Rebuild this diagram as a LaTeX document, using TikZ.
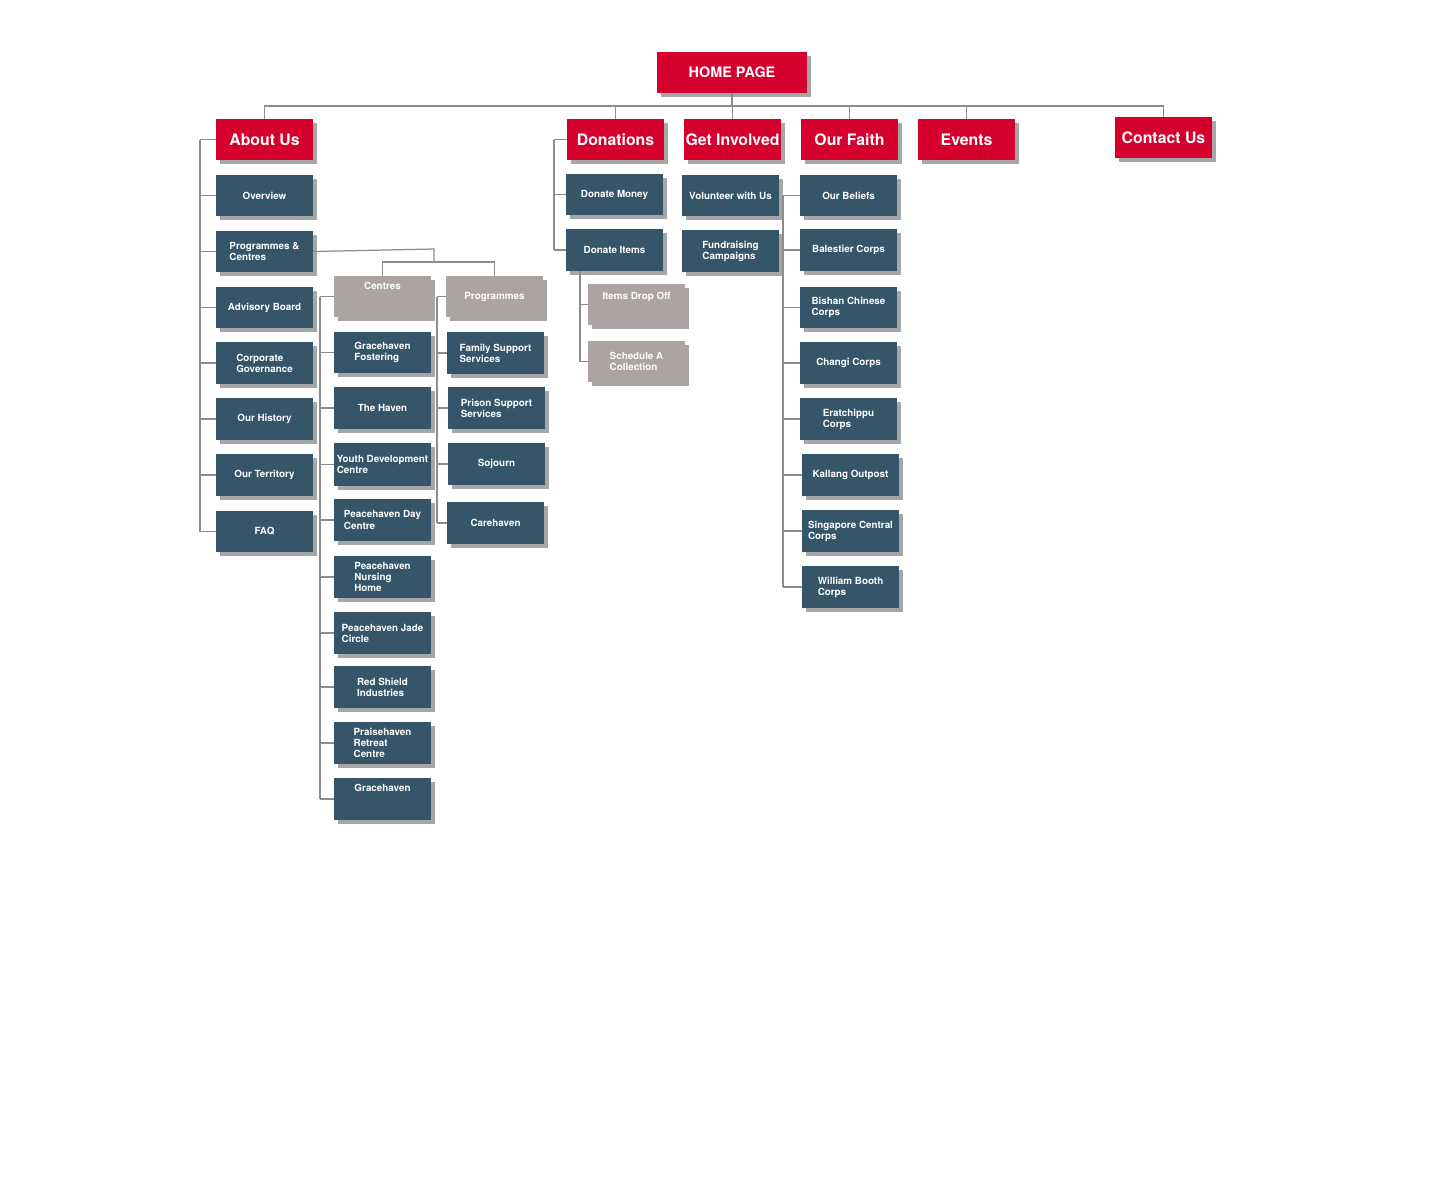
\documentclass[tikz,border=0pt]{standalone}
\usepackage{fontspec}
\setmainfont{TeX Gyre Heros}
\usetikzlibrary{shadows}
\definecolor{hred}{HTML}{D6002E}
\definecolor{hblue}{HTML}{355568}
\definecolor{hgrey}{HTML}{ADA3A3}
\definecolor{hline}{HTML}{8C8C8C}
\tikzset{
  base/.style={draw=none,text=white,font=\bfseries,align=left,inner sep=0pt,
    drop shadow={shadow xshift=2.5pt,shadow yshift=-2.5pt,fill=black,opacity=0.35}},
  redbox/.style={base,fill=hred,font=\fontsize{9}{10}\selectfont\bfseries},
  bluebox/.style={base,fill=hblue,font=\fontsize{5.6}{6.3}\selectfont\bfseries},
  greybox/.style={base,fill=hgrey,font=\fontsize{5.6}{6.3}\selectfont\bfseries},
  conn/.style={draw=hline,line width=0.7pt}
}
\newcommand\bx[7]{\node[#6,minimum width={(#4-#2)*0.02cm},minimum height={(#5-#3)*0.02cm}] (#1) at ({(#2+#4)/2},{(#3+#5)/2}) {#7};}
\begin{document}
\begin{tikzpicture}[x=0.02cm,y=-0.02cm]
\useasboundingbox[fill=white] (0,0) rectangle (1433,1186);
% top
\bx{home}{657}{52}{807}{93}{redbox,font=\fontsize{8.2}{9}\selectfont\bfseries}{HOME PAGE}
\bx{about}{216}{119}{313}{160}{redbox}{About Us}
\bx{don}{567}{119}{664}{160}{redbox}{Donations}
\bx{get}{684}{119}{781}{160}{redbox}{Get Involved}
\bx{faith}{801}{119}{898}{160}{redbox}{Our Faith}
\bx{events}{918}{119}{1015}{160}{redbox}{Events}
\bx{contact}{1115}{117}{1212}{158}{redbox}{Contact Us}
% about column
\bx{ov}{216}{175}{313}{216}{bluebox}{Overview}
\bx{pc}{216}{231}{313}{272}{bluebox}{Programmes \&\\Centres}
\bx{adv}{216}{287}{313}{328}{bluebox}{Advisory Board}
\bx{corp}{216}{342}{313}{384}{bluebox}{Corporate\\Governance}
\bx{hist}{216}{398}{313}{440}{bluebox}{Our History}
\bx{terr}{216}{454}{313}{496}{bluebox}{Our Territory}
\bx{faq}{216}{511}{313}{552}{bluebox}{FAQ}
% centres
\bx{cen}{334}{276}{431}{317}{greybox}{Centres\\[6pt]}
\bx{prg}{446}{276}{543}{317}{greybox}{Programmes}
\bx{c1}{334}{332}{431}{373}{bluebox}{Gracehaven\\Fostering}
\bx{c2}{334}{387}{431}{429}{bluebox}{The Haven}
\bx{c3}{334}{443}{431}{486}{bluebox}{Youth Development\\Centre}
\bx{c4}{334}{499}{431}{541}{bluebox}{Peacehaven Day\\Centre}
\bx{c5}{334}{556}{431}{598}{bluebox}{Peacehaven\\Nursing\\Home}
\bx{c6}{334}{612}{431}{654}{bluebox}{Peacehaven Jade\\Circle}
\bx{c7}{334}{666}{431}{708}{bluebox}{Red Shield\\Industries}
\bx{c8}{334}{722}{431}{764}{bluebox}{Praisehaven\\Retreat\\Centre}
\bx{c9}{334}{778}{431}{820}{bluebox}{Gracehaven\\[6pt]}
% programmes
\bx{p1}{447}{332}{544}{374}{bluebox}{Family Support\\Services}
\bx{p2}{448}{387}{545}{429}{bluebox}{Prison Support\\Services}
\bx{p3}{448}{443}{545}{485}{bluebox}{Sojourn}
\bx{p4}{447}{502}{544}{544}{bluebox}{Carehaven}
% donations
\bx{d1}{566}{174}{663}{215}{bluebox}{Donate Money}
\bx{d2}{566}{229}{663}{271}{bluebox}{Donate Items}
\bx{d3}{588}{284}{685}{325}{greybox}{Items Drop Off\\[4pt]}
\bx{d4}{588}{341}{685}{382}{greybox}{Schedule A\\Collection}
% get involved
\bx{g1}{682}{175}{779}{216}{bluebox}{Volunteer with Us}
\bx{g2}{682}{230}{779}{272}{bluebox}{Fundraising\\Campaigns}
% faith
\bx{f1}{800}{175}{897}{216}{bluebox}{Our Beliefs}
\bx{f2}{800}{229}{897}{271}{bluebox}{Balestier Corps}
\bx{f3}{800}{287}{897}{328}{bluebox}{Bishan Chinese\\Corps}
\bx{f4}{800}{342}{897}{384}{bluebox}{Changi Corps}
\bx{f5}{800}{398}{897}{440}{bluebox}{Eratchippu\\Corps}
\bx{f6}{802}{454}{899}{496}{bluebox}{Kallang Outpost}
\bx{f7}{802}{510}{899}{552}{bluebox}{Singapore Central\\Corps}
\bx{f8}{802}{566}{899}{608}{bluebox}{William Booth\\Corps}
% connectors
\coordinate (bus) at (0,106);
\draw[conn] (home.south) -- (home.south |- bus);
\draw[conn] (about.north) -- (about.north |- bus) -- (contact.north |- bus) -- (contact.north);
\foreach \n in {don,get,faith,events} \draw[conn] (\n.north) -- (\n.north |- bus);
\coordinate (ab) at (200,0);
\draw[conn] (about.west -| ab) -- (faq.west -| ab);
\foreach \n in {about,ov,pc,adv,corp,hist,terr,faq} \draw[conn] (\n.west) -- (\n.west -| ab);
\coordinate (pcm) at (434,249);
\coordinate (pcb) at (0,262);
\draw[conn] (pc.east) -- (pcm) -- (pcm |- pcb);
\draw[conn] (cen.north) -- (cen.north |- pcb) -- (prg.north |- pcb) -- (prg.north);
\coordinate (cb) at (320,0);
\draw[conn] (cen.west -| cb) -- (c9.west -| cb);
\foreach \n in {cen,c1,c2,c3,c4,c5,c6,c7,c8,c9} \draw[conn] (\n.west) -- (\n.west -| cb);
\coordinate (pb) at (437,0);
\draw[conn] (prg.west -| pb) -- (p4.west -| pb);
\foreach \n in {prg,p1,p2,p3,p4} \draw[conn] (\n.west) -- (\n.west -| pb);
\coordinate (db) at (554,0);
\draw[conn] (don.west -| db) -- (d2.west -| db);
\foreach \n in {don,d1,d2} \draw[conn] (\n.west) -- (\n.west -| db);
\coordinate (ib) at (580,0);
\draw[conn] (d2.south -| ib) -- (d4.west -| ib);
\foreach \n in {d3,d4} \draw[conn] (\n.west) -- (\n.west -| ib);
\coordinate (fb) at (783,0);
\draw[conn] (f1.west -| fb) -- (f8.west -| fb);
\foreach \n in {f1,f2,f3,f4,f5,f6,f7,f8} \draw[conn] (\n.west) -- (\n.west -| fb);
\end{tikzpicture}
\end{document}
